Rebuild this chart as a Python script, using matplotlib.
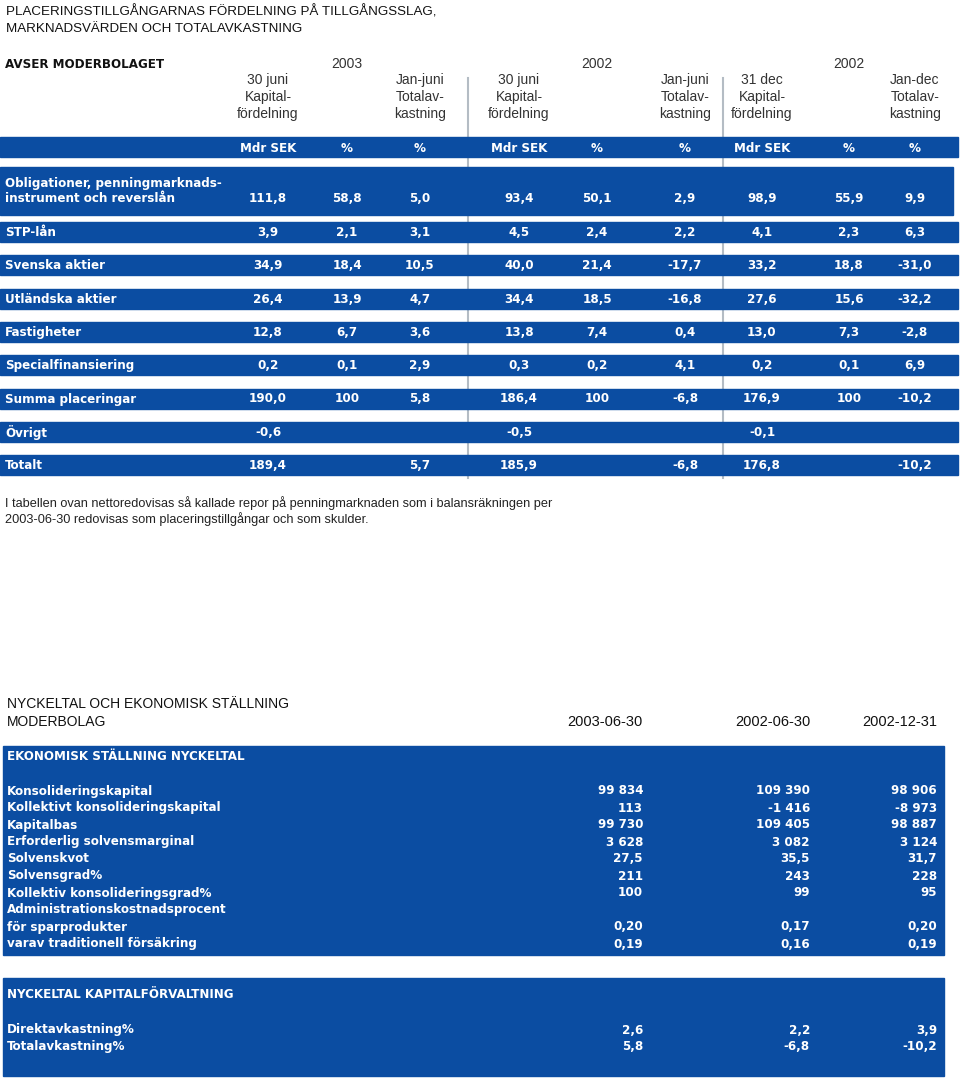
import matplotlib
matplotlib.use("Agg")
import matplotlib.pyplot as plt
from matplotlib.patches import Rectangle

# ---- data: asset allocation table ----
asset_labels = [["Obligationer, penningmarknads-", "instrument och reverslån"], ["STP-lån"],
                ["Svenska aktier"], ["Utländska aktier"], ["Fastigheter"], ["Specialfinansiering"],
                ["Summa placeringar"], ["Övrigt"], ["Totalt"]]
kap_2003 = [111.8, 3.9, 34.9, 26.4, 12.8, 0.2, 190.0, -0.6, 189.4]
andel_2003 = [58.8, 2.1, 18.4, 13.9, 6.7, 0.1, 100, None, None]
avk_2003 = [5.0, 3.1, 10.5, 4.7, 3.6, 2.9, 5.8, None, 5.7]
kap_2002jun = [93.4, 4.5, 40.0, 34.4, 13.8, 0.3, 186.4, -0.5, 185.9]
andel_2002jun = [50.1, 2.4, 21.4, 18.5, 7.4, 0.2, 100, None, None]
avk_2002jun = [2.9, 2.2, -17.7, -16.8, 0.4, 4.1, -6.8, None, -6.8]
kap_2002dec = [98.9, 4.1, 33.2, 27.6, 13.0, 0.2, 176.9, -0.1, 176.8]
andel_2002dec = [55.9, 2.3, 18.8, 15.6, 7.3, 0.1, 100, None, None]
avk_2002dec = [9.9, 6.3, -31.0, -32.2, -2.8, 6.9, -10.2, None, -10.2]

group_years = ["2003", "2002", "2002"]
col_heads = [["30 juni", "Kapital-", "fördelning"], None, ["Jan-juni", "Totalav-", "kastning"],
             ["30 juni", "Kapital-", "fördelning"], None, ["Jan-juni", "Totalav-", "kastning"],
             ["31 dec", "Kapital-", "fördelning"], None, ["Jan-dec", "Totalav-", "kastning"]]
unit_heads = ["Mdr SEK", "%", "%"] * 3

# ---- data: key ratios ----
key_dates = ["2003-06-30", "2002-06-30", "2002-12-31"]
key_labels = ["Konsolideringskapital", "Kollektivt konsolideringskapital", "Kapitalbas",
              "Erforderlig solvensmarginal", "Solvenskvot", "Solvensgrad%",
              "Kollektiv konsolideringsgrad%", "Administrationskostnadsprocent",
              "för sparprodukter", "varav traditionell försäkring"]
key_2003jun = [99834, 113, 99730, 3628, 27.5, 211, 100, None, 0.20, 0.19]
key_2002jun = [109390, -1416, 109405, 3082, 35.5, 243, 99, None, 0.17, 0.16]
key_2002dec = [98906, -8973, 98887, 3124, 31.7, 228, 95, None, 0.20, 0.19]
key_decimals = [0, 0, 0, 0, 1, 0, 0, 0, 2, 2]

cap_labels = ["Direktavkastning%", "Totalavkastning%"]
cap_2003jun = [2.6, 5.8]
cap_2002jun = [2.2, -6.8]
cap_2002dec = [3.9, -10.2]

BLUE = "#0b4da2"
GREY = "#b4bcc4"
REG = ["Liberation Sans", "DejaVu Sans"]
BOLD = dict(family=["DejaVu Sans"], fontstretch="condensed", fontweight="bold",
            fontsize=9.5, color="white", zorder=3)


def fmt(v, dec=1):
    if v is None:
        return ""
    if dec == 0:
        s = f"{abs(v):,.0f}".replace(",", " ")
        return ("-" if v < 0 else "") + s
    return f"{v:.{dec}f}".replace(".", ",")


fig = plt.figure(figsize=(9.6, 10.81), dpi=100)
ax = fig.add_axes([0, 0, 1, 1])
ax.set_xlim(0, 960)
ax.set_ylim(1081, 0)
ax.axis("off")

# ---- titles ----
for k, line in enumerate(["PLACERINGSTILLGÅNGARNAS FÖRDELNING PÅ TILLGÅNGSSLAG,",
                          "MARKNADSVÄRDEN OCH TOTALAVKASTNING"]):
    ax.text(6, 12 + 17 * k, line, family=REG, fontsize=9.6, va="center", color="#111111")
ax.text(5, 64, "AVSER MODERBOLAGET", **{**BOLD, "color": "#111111"}, va="center")

col_x = [268, 347, 420, 519, 597, 685, 762, 849, 915]
for g, yr in enumerate(group_years):
    ax.text(col_x[3 * g + 1], 64, yr, family=REG, fontsize=10, ha="center", va="center", color="#333333")
for x, head in zip(col_x, col_heads):
    if head:
        for k, line in enumerate(head):
            ax.text(x, 80 + 17 * k, line, family=REG, fontsize=10, ha="center", va="center", color="#333333")

# group separators
for x in (468, 723):
    ax.plot([x, x], [78, 478], color=GREY, lw=1.5, zorder=1)

# header band
ax.add_patch(Rectangle((0, 137), 958, 20, color=BLUE, zorder=2))
for x, u in zip(col_x, unit_heads):
    ax.text(x, 148, u, ha="center", va="center", **BOLD)

columns = [kap_2003, andel_2003, avk_2003, kap_2002jun, andel_2002jun, avk_2002jun,
           kap_2002dec, andel_2002dec, avk_2002dec]
share_cols = {1, 4, 7}
for i, label in enumerate(asset_labels):
    if i == 0:
        top, h, right = 167, 48, 953
        ty = top + 32
    else:
        top, h, right = 222 + (i - 1) * 33.3, 20, 958
        ty = top + 10.5
    ax.add_patch(Rectangle((0, top), right, h, color=BLUE, zorder=2))
    for k, line in enumerate(label[::-1]):
        ax.text(5, ty - 15.5 * k, line, ha="left", va="center", **BOLD)
    for c, (x, col) in enumerate(zip(col_x, columns)):
        v = col[i]
        dec = 0 if (c in share_cols and v == 100) else 1
        ax.text(x, ty, fmt(v, dec), ha="center", va="center", **BOLD)

for k, line in enumerate(["I tabellen ovan nettoredovisas så kallade repor på penningmarknaden som i balansräkningen per",
                          "2003-06-30 redovisas som placeringstillgångar och som skulder."]):
    ax.text(5, 503 + 16.5 * k, line, family=REG, fontsize=9.2, va="center", color="#222222")

# ---- key ratios section ----
for k, line in enumerate(["NYCKELTAL OCH EKONOMISK STÄLLNING", "MODERBOLAG"]):
    ax.text(7, 704 + 18 * k, line, family=REG, fontsize=10, va="center", color="#111111")
date_x = [643, 810, 937]
for x, d in zip(date_x, key_dates):
    ax.text(x, 722, d, family=REG, fontsize=10.5, ha="right", va="center", color="#111111")

ax.add_patch(Rectangle((3, 746), 941, 209, color=BLUE, zorder=2))
ax.text(7, 757, "EKONOMISK STÄLLNING NYCKELTAL", va="center", **BOLD)
key_cols = [key_2003jun, key_2002jun, key_2002dec]
for i, label in enumerate(key_labels):
    y = 791 + 17 * i
    ax.text(7, y, label, va="center", **BOLD)
    for x, col in zip(date_x, key_cols):
        ax.text(x, y, fmt(col[i], key_decimals[i]), ha="right", va="center", **BOLD)

ax.add_patch(Rectangle((3, 978), 941, 98, color=BLUE, zorder=2))
ax.text(7, 995, "NYCKELTAL KAPITALFÖRVALTNING", va="center", **BOLD)
for i, label in enumerate(cap_labels):
    y = 1030 + 16.5 * i
    ax.text(7, y, label, va="center", **BOLD)
    for x, col in zip(date_x, [cap_2003jun, cap_2002jun, cap_2002dec]):
        ax.text(x, y, fmt(col[i], 1), ha="right", va="center", **BOLD)

fig.savefig("out.png", dpi=100)
